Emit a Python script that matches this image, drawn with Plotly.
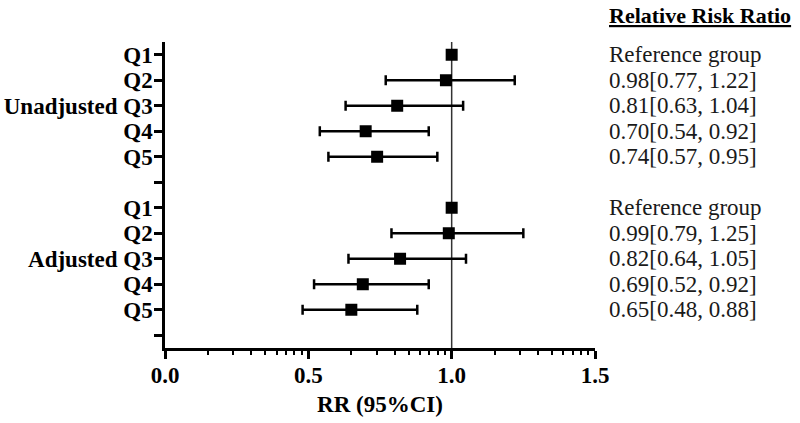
import numpy as np
import plotly.graph_objects as go

# ---- data ----
quintiles = ["Q1", "Q2", "Q3", "Q4", "Q5"]
groups = ["Unadjusted", "Adjusted"]
unadj_rr = [1.00, 0.98, 0.81, 0.70, 0.74]
unadj_lo = [None, 0.77, 0.63, 0.54, 0.57]
unadj_hi = [None, 1.22, 1.04, 0.92, 0.95]
adj_rr = [1.00, 0.99, 0.82, 0.69, 0.65]
adj_lo = [None, 0.79, 0.64, 0.52, 0.48]
adj_hi = [None, 1.25, 1.05, 0.92, 0.88]
x_ticks = [0.0, 0.5, 1.0, 1.5]
x_ticktext = ["0.0", "0.5", "1.0", "1.5"]

FONT = "Liberation Serif"

# row positions (top to bottom), with a blank row after each group
unadj_y = [12, 11, 10, 9, 8]
adj_y = [6, 5, 4, 3, 2]
blank_y = [7, 1]

fig = go.Figure()

def add_group(rr, lo, hi, ys):
    plus = [None if h is None else h - r for r, h in zip(rr, hi)]
    minus = [None if l is None else r - l for r, l in zip(rr, lo)]
    fig.add_trace(go.Scatter(
        x=rr, y=ys, mode="markers",
        marker=dict(symbol="square", size=12, color="black"),
        error_x=dict(type="data", symmetric=False, array=plus, arrayminus=minus,
                     color="black", thickness=2.5, width=5),
        showlegend=False, hoverinfo="x+y"))

add_group(unadj_rr, unadj_lo, unadj_hi, unadj_y)
add_group(adj_rr, adj_lo, adj_hi, adj_y)

# y tick labels
tickvals = unadj_y + [blank_y[0]] + adj_y + [blank_y[1]]
ticktext = []
for g in groups:
    for q in quintiles:
        ticktext.append(f"{g} {q}" if q == "Q3" else q)
    ticktext.append("")

# right-hand text column
def label(r, l, h):
    if l is None:
        return "Reference group"
    return f"{r:.2f}[{l:.2f}, {h:.2f}]"

annotations = []
for rr, lo, hi, ys in [(unadj_rr, unadj_lo, unadj_hi, unadj_y),
                       (adj_rr, adj_lo, adj_hi, adj_y)]:
    for r, l, h, yv in zip(rr, lo, hi, ys):
        annotations.append(dict(x=1.029, xref="paper", y=yv, yref="y",
                                text=label(r, l, h), showarrow=False,
                                xanchor="left", yanchor="middle",
                                font=dict(family=FONT, size=23, color="#1a1a1a")))
annotations.append(dict(x=1.029, xref="paper", y=1.0, yref="paper", yshift=27,
                        text="<b><u>Relative Risk Ratio</u></b>", showarrow=False,
                        xanchor="left", yanchor="middle",
                        font=dict(family=FONT, size=22, color="black")))

# Prism-style log-spaced minor ticks inside each 0.5 interval
minor_vals = [a + 0.5 * np.log10(k) for a in [0.0, 0.5, 1.0] for k in range(2, 10)]

fig.update_layout(
    width=800, height=423,
    margin=dict(l=165, r=204.5, t=42, b=75),
    paper_bgcolor="white", plot_bgcolor="white",
    annotations=annotations,
    shapes=[dict(type="line", xref="x", yref="paper", x0=1.0, x1=1.0, y0=0, y1=1,
                 line=dict(color="#333333", width=1.5), layer="below")],
    xaxis=dict(range=[0, 1.5], tickvals=x_ticks, ticktext=x_ticktext,
               automargin=False,
               showline=True, linecolor="black", linewidth=2.5,
               ticks="outside", ticklen=8, tickwidth=2.5, tickcolor="black",
               ticklabelstandoff=-3,
               minor=dict(tickvals=minor_vals, ticks="outside", ticklen=4,
                          tickwidth=2, tickcolor="black"),
               showgrid=False, zeroline=False,
               tickfont=dict(family=FONT, size=23, color="black", weight="bold"),
               title=dict(text="RR (95%CI)", standoff=9,
                          font=dict(family=FONT, size=23, color="black", weight="bold"))),
    yaxis=dict(range=[0.5, 12.5], tickvals=tickvals, ticktext=ticktext,
               automargin=False,
               showline=True, linecolor="black", linewidth=2.5,
               ticks="outside", ticklen=8, tickwidth=2.5, tickcolor="black",
               ticklabelstandoff=-3,
               showgrid=False, zeroline=False,
               tickfont=dict(family=FONT, size=23, color="black", weight="bold")),
)

fig.write_html("out.html", config={"displayModeBar": False},
               post_script="document.body.style.margin='0';document.body.style.overflow='hidden';")
